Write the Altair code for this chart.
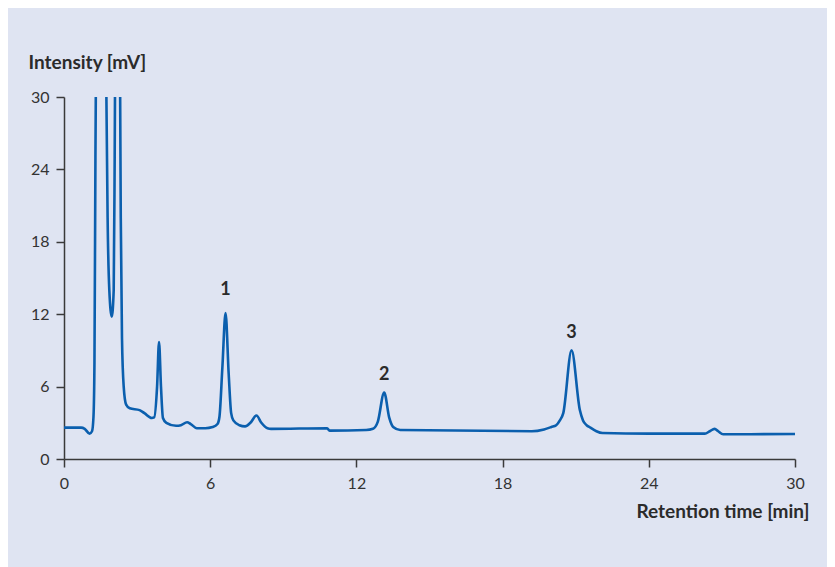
import altair as alt
import pandas as pd

# chromatogram trace (retention time in min, intensity in mV)
times = [0.0, 0.7, 0.85, 1.05, 1.15, 1.21, 1.25, 1.29, 1.35, 1.5, 1.68, 1.74, 1.79, 1.86, 1.96,
         2.04, 2.08, 2.13, 2.2, 2.28, 2.33, 2.38, 2.45, 2.55, 2.7, 3.1, 3.3, 3.6, 3.7, 3.82,
         3.9, 3.98, 4.06, 4.2, 4.6, 4.8, 5.05, 5.2, 5.45, 5.8, 6.1, 6.3, 6.38, 6.5, 6.63,
         6.76, 6.86, 6.95, 7.2, 7.43, 7.65, 7.9, 8.1, 8.35, 8.5, 10.8, 10.9, 12.4, 12.68,
         12.88, 13.14, 13.35, 13.51, 13.8, 19.2, 19.7, 20.0, 20.2, 20.35, 20.49, 20.83,
         21.17, 21.3, 21.45, 21.6, 21.85, 22.1, 24.0, 26.3, 26.5, 26.7, 26.85, 27.05, 30.0]
intensity = [2.6, 2.6, 2.5, 2.1, 2.3, 3.5, 8.0, 25.0, 45.0, 80.0, 45.0, 30.0, 20.0, 14.0, 11.8,
             14.0, 25.0, 45.0, 60.0, 40.0, 20.0, 10.0, 6.0, 4.5, 4.2, 4.05, 3.8, 3.4, 3.45, 6.0,
             9.7, 6.0, 3.4, 3.0, 2.75, 2.8, 3.05, 2.9, 2.55, 2.55, 2.65, 2.9, 3.5, 7.6, 12.1,
             7.0, 3.8, 3.2, 2.8, 2.7, 3.0, 3.6, 3.0, 2.55, 2.5, 2.55, 2.35, 2.4, 2.5,
             3.1, 5.5, 3.4, 2.65, 2.4, 2.3, 2.45, 2.65, 2.8, 3.2, 3.8, 9.0,
             4.06, 3.2, 2.8, 2.6, 2.3, 2.15, 2.1, 2.1, 2.3, 2.5, 2.3, 2.05, 2.07]

# labelled peaks
peak_labels = ["1", "2", "3"]
peak_times = [6.63, 13.14, 20.83]
label_heights = [13.6, 6.55, 10.0]

x_ticks = [0, 6, 12, 18, 24, 30]
y_ticks = [0, 6, 12, 18, 24, 30]

trace = pd.DataFrame({"t": times, "v": intensity})
labels = pd.DataFrame({"t": peak_times, "v": label_heights, "lab": peak_labels})

FONT = "Lato"
TXT = "#2b2b2b"

x_scale = alt.Scale(domain=[0, 30], nice=False, zero=False)
y_scale = alt.Scale(domain=[0, 30], nice=False)

line = alt.Chart(trace).mark_line(
    color="#0b5fae", strokeWidth=2.6, clip=True, interpolate="monotone"
).encode(
    x=alt.X("t:Q", scale=x_scale,
            axis=alt.Axis(values=x_ticks, title="Retention time [min]", grid=False,
                          domainColor="#3a3a3a", domainWidth=1.5, tickColor="#3a3a3a",
                          tickWidth=1.5, tickSize=8, labelPadding=8, labelFontSize=16,
                          labelFont=FONT, labelColor="#333333", labelFlush=False,
                          titleFont=FONT, titleFontSize=19, titleFontWeight="bold",
                          titleColor=TXT, titleAlign="right", titleAnchor="end",
                          titleBaseline="alphabetic", titleX=745, titleY=58)),
    y=alt.Y("v:Q", scale=y_scale,
            axis=alt.Axis(values=y_ticks, title="Intensity [mV]", grid=False,
                          domainColor="#3a3a3a", domainWidth=1.5, tickColor="#3a3a3a",
                          tickWidth=1.5, tickSize=8, labelPadding=7, labelFontSize=16,
                          labelFont=FONT, labelColor="#333333", labelFlush=False,
                          titleFont=FONT, titleFontSize=19, titleFontWeight="bold",
                          titleColor=TXT, titleAngle=0, titleAlign="left",
                          titleBaseline="alphabetic", titleX=-36, titleY=-29)),
)

text = alt.Chart(labels).mark_text(
    font=FONT, fontSize=18, fontWeight="bold", color=TXT, baseline="alphabetic", align="center"
).encode(
    x=alt.X("t:Q", scale=x_scale),
    y=alt.Y("v:Q", scale=y_scale),
    text="lab:N",
)

chart = alt.layer(line, text).properties(
    width=731, height=362,
    background="#dfe4f2",
    autosize=alt.AutoSizeParams(type="none"),
    padding={"left": 56, "top": 89, "right": 32, "bottom": 114},
).configure_view(stroke=None)

chart.save("out.html", embed_options={"renderer": "svg", "actions": False})
